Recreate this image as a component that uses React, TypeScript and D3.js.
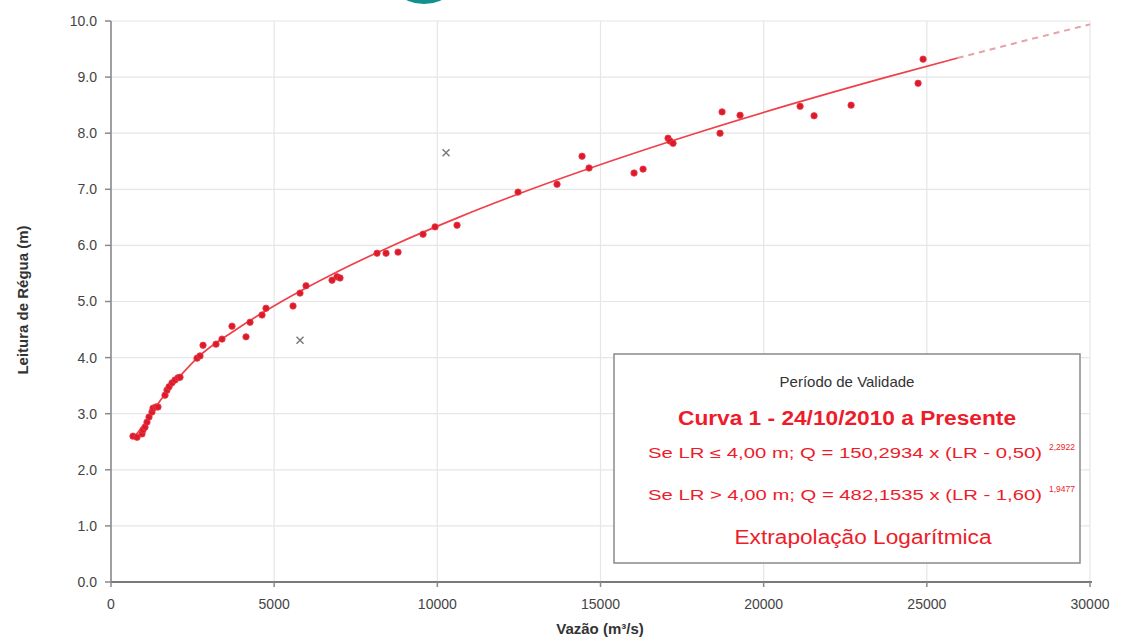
import React from "react";
import * as d3 from "d3";

// Observed points: discharge (m³/s) and stage (m)
const obsQ = [674, 797, 950, 981, 1042, 1103, 1165, 1256, 1287, 1379, 1440, 1655, 1716, 1778, 1869, 1961, 2053, 2115, 2636, 2728, 2820, 3218, 3402, 3708, 4137, 4260, 4628, 4750, 5578, 5792, 5976, 6773, 6926, 7018, 8152, 8428, 8796, 9562, 9930, 10604, 12473, 13668, 14435, 14649, 16028, 16304, 17070, 17131, 17223, 18663, 18725, 19277, 21116, 21545, 22679, 24732, 24885];
const obsH = [2.6, 2.58, 2.64, 2.71, 2.76, 2.85, 2.94, 3.03, 3.1, 3.12, 3.12, 3.33, 3.42, 3.48, 3.55, 3.6, 3.64, 3.65, 3.99, 4.03, 4.22, 4.24, 4.33, 4.56, 4.37, 4.63, 4.76, 4.88, 4.92, 5.15, 5.28, 5.38, 5.44, 5.42, 5.86, 5.86, 5.88, 6.2, 6.33, 6.36, 6.95, 7.09, 7.59, 7.38, 7.29, 7.36, 7.91, 7.86, 7.82, 8.0, 8.38, 8.32, 8.48, 8.31, 8.5, 8.89, 9.32];

// Discarded measurements (×)
const outQ = [5792, 10267];
const outH = [4.31, 7.65];

// Rating curve (solid) and extrapolation (dashed)
const curveH = [2.58, 2.8, 3.0, 3.25, 3.5, 3.75, 4.0, 4.5, 5.0, 5.5, 6.0, 6.5, 7.0, 7.5, 8.0, 8.5, 9.0, 9.34];
const curveQ = [700, 1000, 1228, 1528, 1865, 2240, 2655, 3835, 5229, 6830, 8639, 10654, 12871, 15297, 17922, 20747, 23771, 25944];
const extH = [9.34, 9.6, 9.94];
const extQ = [25944, 27675, 30000];

const xTicks = [0, 5000, 10000, 15000, 20000, 25000, 30000];
const yTicks = [0, 1, 2, 3, 4, 5, 6, 7, 8, 9, 10];

const W = 1121, H = 639;
const L = 111, R = 1090, T = 21, B = 582;
const FONT = "'Liberation Sans', Arial, sans-serif";
const RED = "#ee1c2a";

export default function App() {
  const x = d3.scaleLinear().domain([0, 30000]).range([L, R]);
  const y = d3.scaleLinear().domain([0, 10]).range([B, T]);
  const line = d3.line<number>().x((_, i) => x(curveQ[i])).y((h) => y(h)).curve(d3.curveMonotoneX);
  const extLine = d3.line<number>().x((_, i) => x(extQ[i])).y((h) => y(h)).curve(d3.curveMonotoneX);
  const cx = 847;
  return (
    <svg width={W} height={H} style={{ position: "absolute", left: 0, top: 0, background: "#fff" }} fontFamily={FONT}>
      <rect width={W} height={H} fill="#fff" />
      {/* teal logo fragment */}
      <circle cx={424} cy={-37} r={41} fill="#128f8f" />
      {/* grid */}
      {yTicks.filter((t) => t > 0).map((t) => (
        <line key={"gy" + t} x1={L} x2={R} y1={y(t)} y2={y(t)} stroke="#e6e6e6" strokeWidth={1.2} />
      ))}
      {xTicks.filter((t) => t > 0).map((t) => (
        <line key={"gx" + t} x1={x(t)} x2={x(t)} y1={T} y2={B} stroke="#e6e6e6" strokeWidth={1.2} />
      ))}
      {/* axes */}
      <line x1={L} x2={L} y1={T} y2={B} stroke="#a0a0a0" strokeWidth={2} />
      <line x1={L} x2={R + 2} y1={B} y2={B} stroke="#7a7a7a" strokeWidth={2} />
      {yTicks.map((t) => (
        <g key={"ty" + t}>
          <line x1={L - 6} x2={L} y1={y(t)} y2={y(t)} stroke="#8a8a8a" strokeWidth={1.5} />
          <text x={L - 14} y={y(t)} dy="0.35em" textAnchor="end" fontSize={14} fill="#444">{t.toFixed(1)}</text>
        </g>
      ))}
      {xTicks.map((t) => (
        <g key={"tx" + t}>
          <line x1={x(t)} x2={x(t)} y1={B} y2={B + 5} stroke="#8a8a8a" strokeWidth={1.5} />
          <text x={x(t)} y={B + 27} textAnchor="middle" fontSize={14} fill="#444">{t}</text>
        </g>
      ))}
      <text x={600} y={634} textAnchor="middle" fontSize={15} fontWeight="bold" fill="#333">Vazão (m³/s)</text>
      <text transform="translate(28,300) rotate(-90)" textAnchor="middle" fontSize={15} fontWeight="bold" fill="#333">Leitura de Régua (m)</text>
      {/* curve */}
      <path d={extLine(extH) || ""} fill="none" stroke="#e4a2aa" strokeWidth={2} strokeDasharray="6 5" />
      <path d={line(curveH) || ""} fill="none" stroke="#f0404a" strokeWidth={1.7} />
      {/* points */}
      {obsQ.map((q, i) => (
        <circle key={"p" + i} cx={x(q)} cy={y(obsH[i])} r={3.2} fill="#d81c2c" stroke="#f03848" strokeWidth={0.8} />
      ))}
      {outQ.map((q, i) => {
        const px = x(q), py = y(outH[i]), s = 3.5;
        return (
          <path key={"o" + i} d={`M${px - s},${py - s}L${px + s},${py + s}M${px - s},${py + s}L${px + s},${py - s}`} stroke="#777" strokeWidth={1.4} />
        );
      })}
      {/* legend box */}
      <rect x={614} y={354} width={466} height={209} fill="#fff" stroke="#8a8a8a" strokeWidth={1.5} />
      <text x={cx} y={387} textAnchor="middle" fontSize={15} fill="#333">Período de Validade</text>
      <text x={cx} y={425} textAnchor="middle" fontSize={20} fontWeight="bold" fill={RED} textLength={338} lengthAdjust="spacingAndGlyphs">Curva 1 - 24/10/2010 a Presente</text>
      <text x={648} y={458} fontSize={14} fill={RED} textLength={394} lengthAdjust="spacingAndGlyphs">Se LR ≤ 4,00 m; Q = 150,2934 x (LR - 0,50)</text>
      <text x={1049} y={450} fontSize={8.5} fill={RED}>2,2922</text>
      <text x={648} y={500} fontSize={14} fill={RED} textLength={394} lengthAdjust="spacingAndGlyphs">Se LR &gt; 4,00 m; Q = 482,1535 x (LR - 1,60)</text>
      <text x={1049} y={492} fontSize={8.5} fill={RED}>1,9477</text>
      <text x={cx + 16} y={544} textAnchor="middle" fontSize={20} fill={RED} textLength={257} lengthAdjust="spacingAndGlyphs">Extrapolação Logarítmica</text>
    </svg>
  );
}
